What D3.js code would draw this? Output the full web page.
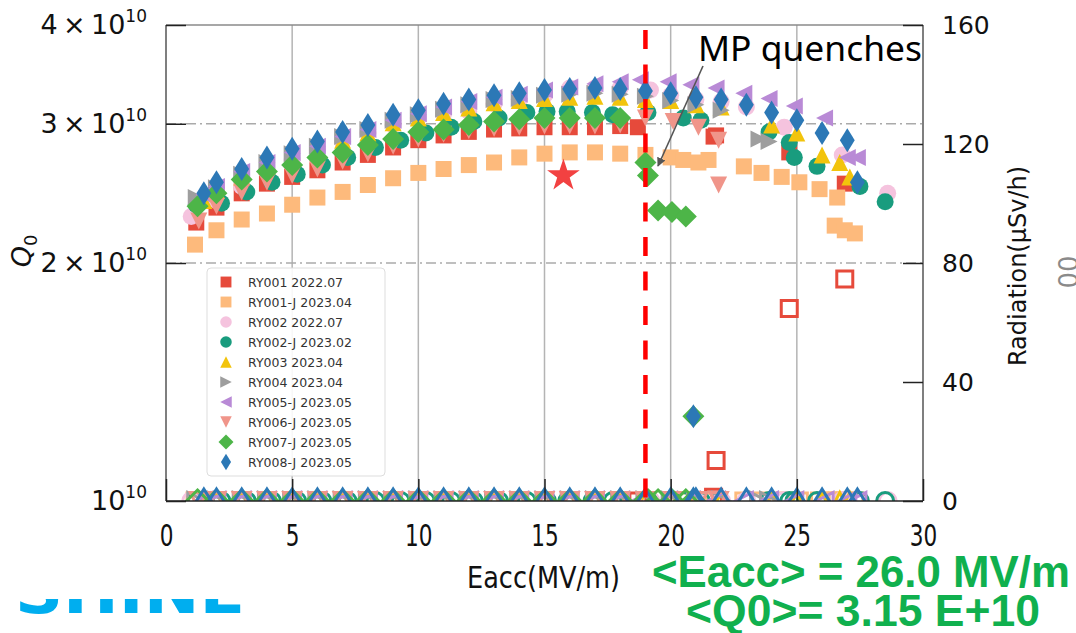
<!DOCTYPE html>
<html>
<head>
<meta charset="utf-8">
<script src="https://cdn.jsdelivr.net/npm/d3@7"></script>
<style>
  body { margin: 0; background: #fff; }
  svg { display: block; font-family: "DejaVu Sans", sans-serif; }
</style>
</head>
<body>
<script>
// Q0 in units of 1e10, Eacc in MV/m, radiation in uSv/h

var ry001_eacc = [1.2, 2, 3, 4, 5, 6, 7, 8, 9, 10, 11, 12, 13, 14, 15, 16, 17, 18, 18.7, 21.8, 21.7, 24.7, 26.9];
var ry001_q0   = [2.25, 2.35, 2.45, 2.52, 2.57, 2.62, 2.68, 2.74, 2.80, 2.86, 2.90, 2.93, 2.95, 2.96, 2.97, 2.97, 2.97, 2.98, 2.97, 2.90, 2.89, 2.76, 2.52];
var ry001_rad  = [0, 0, 0, 0, 0, 0, 0, 0, 0, 0, 0, 0, 0, 0, 0, 0, 0, 0, 0, 13.6, 1.3, 64.7, 74.6];

var ry001j_eacc = [1.15, 2, 3, 4, 5, 6, 7, 8, 9, 10, 11, 12, 13, 14, 15, 16, 17, 18, 19, 20, 20.5, 21.1, 21.5, 22.9, 23.6, 24.4, 25.1, 25.9, 26.6, 26.5, 26.9, 27.3];
var ry001j_q0   = [2.11, 2.20, 2.27, 2.31, 2.37, 2.42, 2.46, 2.51, 2.56, 2.60, 2.63, 2.66, 2.68, 2.72, 2.75, 2.76, 2.76, 2.75, 2.74, 2.72, 2.70, 2.68, 2.70, 2.65, 2.60, 2.57, 2.53, 2.48, 2.42, 2.23, 2.20, 2.18];
var ry001j_rad  = [0, 0, 0, 0, 0, 0, 0, 0, 0, 0, 0, 0, 0, 0, 0, 0, 0, 0, 0, 0, 0, 0, 0, 0, 0, 0, 0, 0, 0, 0, 0, 0];

var ry002_eacc = [1.0, 2, 3, 4, 5, 6, 7, 8, 9, 10, 11, 12, 13, 14, 15, 16, 17, 18, 19.2, 20, 21, 22, 23, 24.5, 26.8, 28.6];
var ry002_q0   = [2.29, 2.40, 2.50, 2.61, 2.70, 2.78, 2.85, 2.92, 2.99, 3.05, 3.09, 3.11, 3.18, 3.22, 3.26, 3.33, 3.33, 3.33, 3.31, 3.26, 3.22, 3.20, 3.15, 2.97, 2.74, 2.45];
var ry002_rad  = [0, 0, 0, 0, 0, 0, 0, 0, 0, 0, 0, 0, 0, 0, 0, 0, 0, 0, 0, 0, 0, 0, 0, 0, 0, 0];

var ry002j_eacc = [1.2, 2.2, 3.2, 4.2, 5.2, 6.2, 7.2, 8.3, 9.3, 10.3, 11.3, 12.2, 13.2, 14.3, 15.1, 15.9, 16.9, 17.7, 19.1, 20.5, 21.2, 23.9, 24.7, 24.9, 25.8, 27.5, 28.5];
var ry002j_q0   = [2.37, 2.38, 2.46, 2.53, 2.59, 2.66, 2.72, 2.80, 2.86, 2.92, 2.97, 3.02, 3.05, 3.10, 3.11, 3.11, 3.10, 3.08, 3.10, 3.05, 3.03, 2.93, 2.84, 2.72, 2.65, 2.50, 2.39];
var ry002j_rad  = [0, 0, 0, 0, 0, 0, 0, 0, 0, 0, 0, 0, 0, 0, 0, 0, 0, 0, 0, 0, 0, 0, 0, 0, 0, 0, 0];

var ry003_eacc = [1.5, 2, 3, 4, 5, 6, 7, 8, 9, 10, 11, 12, 13, 14, 15, 16, 17, 18, 19, 20, 21, 22, 24, 25, 26, 26.7, 27.1];
var ry003_q0   = [2.40, 2.47, 2.57, 2.65, 2.72, 2.79, 2.86, 2.92, 3.01, 3.05, 3.10, 3.14, 3.19, 3.21, 3.23, 3.24, 3.25, 3.24, 3.22, 3.21, 3.17, 3.15, 2.99, 2.92, 2.74, 2.68, 2.57];
var ry003_rad  = [0, 0, 0, 0, 0, 0, 0, 0, 0, 0, 0, 0, 0, 0, 0, 0, 0, 0, 0, 0, 0, 0, 0, 0, 0, 0, 0];

var ry004_eacc = [1.2, 2, 3, 4, 5, 6, 7, 8, 9, 10, 11, 12, 13, 14, 15, 16, 17, 18, 19, 20, 21, 22, 23.5, 23.9];
var ry004_q0   = [2.42, 2.49, 2.59, 2.68, 2.75, 2.81, 2.89, 2.95, 3.03, 3.08, 3.13, 3.17, 3.22, 3.23, 3.26, 3.27, 3.28, 3.27, 3.25, 3.21, 3.17, 3.12, 2.87, 2.85];
var ry004_rad  = [0, 0, 0, 0, 0, 0, 0, 0, 0, 0, 0, 0, 0, 0, 0, 0, 0, 0, 0, 0, 0, 0, 0, 0];

var ry005j_eacc = [1.5, 2, 3, 4, 5, 6, 7, 8, 9, 10, 11, 12, 13, 14, 15, 16, 17, 18, 18.8, 19.9, 20.8, 21.8, 22.9, 23.9, 24.9, 26.1, 27.0, 27.4];
var ry005j_q0   = [2.44, 2.50, 2.61, 2.68, 2.76, 2.81, 2.89, 2.95, 3.03, 3.09, 3.15, 3.20, 3.24, 3.27, 3.31, 3.34, 3.37, 3.39, 3.41, 3.39, 3.36, 3.33, 3.28, 3.23, 3.16, 3.05, 2.72, 2.72];
var ry005j_rad  = [0, 0, 0, 0, 0, 0, 0, 0, 0, 0, 0, 0, 0, 0, 0, 0, 0, 0, 0, 0, 0, 0, 0, 0, 0, 0, 0, 0];

var ry006j_eacc = [1.3, 2, 3, 4, 5, 6, 7, 8, 9, 10, 11, 12, 13, 14, 15, 16, 17, 18, 19, 20.1, 21.1, 21.9, 21.9];
var ry006j_q0   = [2.26, 2.36, 2.46, 2.53, 2.58, 2.63, 2.69, 2.75, 2.81, 2.87, 2.91, 2.94, 2.96, 2.97, 2.98, 2.98, 2.98, 2.99, 3.05, 3.02, 2.97, 2.86, 2.51];
var ry006j_rad  = [0, 0, 0, 0, 0, 0, 0, 0, 0, 0, 0, 0, 0, 0, 0, 0, 0, 0, 0, 0, 0, 0, 0];

var ry007j_eacc = [1.25, 2, 3, 4, 5, 6, 7, 8, 9, 10, 11, 12, 13, 14, 15, 16, 17, 18, 19.0, 19.1, 19.5, 20.05, 20.6, 20.9];
var ry007j_q0   = [2.36, 2.45, 2.55, 2.61, 2.66, 2.72, 2.76, 2.82, 2.87, 2.93, 2.95, 2.99, 3.02, 3.04, 3.05, 3.05, 3.05, 3.05, 2.68, 2.58, 2.33, 2.32, 2.29, 1.28];
var ry007j_rad  = [0, 0, 0, 0, 0, 0, 0, 0, 0, 0, 0, 0, 0, 0, 0, 0, 0, 0, 0, 0, 0, 0, 0, 0];

var ry008j_eacc = [1.5, 2, 3, 4, 5, 6, 7, 8, 9, 10, 11, 12, 13, 14, 15, 16, 17, 18, 19, 20, 21, 22, 23, 24, 25, 26, 27, 27.4, 20.9];
var ry008j_q0   = [2.45, 2.53, 2.63, 2.72, 2.79, 2.85, 2.93, 2.99, 3.08, 3.12, 3.18, 3.22, 3.26, 3.28, 3.31, 3.32, 3.33, 3.32, 3.30, 3.28, 3.24, 3.22, 3.17, 3.10, 3.03, 2.92, 2.86, 2.53, 1.28];
var ry008j_rad  = [0, 0, 0, 0, 0, 0, 0, 0, 0, 0, 0, 0, 0, 0, 0, 0, 0, 0, 0, 0, 0, 0, 0, 0, 0, 0, 0, 0, 0];

var star_eacc = [15.75];
var star_q0 = [2.58];

var quenchEacc = 19;

var xTicks = [0, 5, 10, 15, 20, 25, 30];
var yTicks = [1, 2, 3, 4];
var y2Ticks = [0, 40, 80, 120, 160];

var legendNames = ["RY001 2022.07", "RY001-J 2023.04", "RY002 2022.07", "RY002-J 2023.02", "RY003 2023.04",
                   "RY004 2023.04", "RY005-J 2023.05", "RY006-J 2023.05", "RY007-J 2023.05", "RY008-J 2023.05"];

// table built from the arrays above
var series = [
  { eacc: ry001_eacc,  q0: ry001_q0,  rad: ry001_rad,  shape: "square", color: "#e64a3b" },
  { eacc: ry001j_eacc, q0: ry001j_q0, rad: ry001j_rad, shape: "square", color: "#fdba7c" },
  { eacc: ry002_eacc,  q0: ry002_q0,  rad: ry002_rad,  shape: "circle", color: "#f5c3de" },
  { eacc: ry002j_eacc, q0: ry002j_q0, rad: ry002j_rad, shape: "circle", color: "#199c7e" },
  { eacc: ry003_eacc,  q0: ry003_q0,  rad: ry003_rad,  shape: "up",     color: "#f2c40c" },
  { eacc: ry004_eacc,  q0: ry004_q0,  rad: ry004_rad,  shape: "right",  color: "#9e9e9e" },
  { eacc: ry005j_eacc, q0: ry005j_q0, rad: ry005j_rad, shape: "left",   color: "#b98ad6" },
  { eacc: ry006j_eacc, q0: ry006j_q0, rad: ry006j_rad, shape: "down",   color: "#f0958a" },
  { eacc: ry007j_eacc, q0: ry007j_q0, rad: ry007j_rad, shape: "D",      color: "#4db548" },
  { eacc: ry008j_eacc, q0: ry008j_q0, rad: ry008j_rad, shape: "d",      color: "#2c78b6" }
];
series.forEach(function (s, i) { s.name = legendNames[i]; });

var markerSize = { square: 8, circle: 8.5, up: 8.5, down: 8.5, left: 8.5, right: 8.5, D: 11, d: 12 };

function markerPath(shape, s) {
  switch (shape) {
    case "square": return "M" + (-s) + "," + (-s) + "H" + s + "V" + s + "H" + (-s) + "Z";
    case "circle": return d3.symbol(d3.symbolCircle, Math.PI * s * s)();
    case "up":     return "M0," + (-s) + "L" + s + "," + s + "L" + (-s) + "," + s + "Z";
    case "down":   return "M0," + s + "L" + s + "," + (-s) + "L" + (-s) + "," + (-s) + "Z";
    case "right":  return "M" + s + ",0L" + (-s) + "," + (-s) + "L" + (-s) + "," + s + "Z";
    case "left":   return "M" + (-s) + ",0L" + s + "," + (-s) + "L" + s + "," + s + "Z";
    case "D":      return "M0," + (-s) + "L" + s + ",0L0," + s + "L" + (-s) + ",0Z";
    case "d":      return "M0," + (-s) + "L" + (s * 0.62) + ",0L0," + s + "L" + (-s * 0.62) + ",0Z";
  }
}

//Define Margins and svg here:
var margin = { top: 25, right: 153, bottom: 132, left: 166 };
var W = 1076, H = 633;
var width = W - margin.left - margin.right,
    height = H - margin.top - margin.bottom;

var svg = d3.select("body").append("svg")
    .attr("width", W)
    .attr("height", H);

var g = svg.append("g")
    .attr("transform", "translate(" + margin.left + "," + margin.top + ")");

var xScale = d3.scaleLinear().domain([0, 30]).range([0, width]);
var yScale = d3.scaleLog().domain([1, 4]).range([height, 0]);
var y2Scale = d3.scaleLinear().domain([0, 160]).range([height, 0]);

g.append("clipPath").attr("id", "plotClip")
  .append("rect").attr("width", width).attr("height", height);

// grid
g.selectAll(".vgrid").data([5, 10, 15, 20, 25]).enter().append("line")
  .attr("x1", function (d) { return xScale(d); }).attr("x2", function (d) { return xScale(d); })
  .attr("y1", 0).attr("y2", height)
  .attr("stroke", "#b4b4b4").attr("stroke-width", 1.5);

g.selectAll(".hgrid").data([2, 3]).enter().append("line")
  .attr("x1", 0).attr("x2", width)
  .attr("y1", function (d) { return yScale(d); }).attr("y2", function (d) { return yScale(d); })
  .attr("stroke", "#aaaaaa").attr("stroke-width", 1.5)
  .attr("stroke-dasharray", "10,4,2,4");

// Q0 markers
var plot = g.append("g").attr("clip-path", "url(#plotClip)");

series.forEach(function (s) {
  var pts = s.eacc.map(function (e, i) { return { x: e, q: s.q0[i] }; });
  plot.append("g").selectAll("path").data(pts).enter().append("path")
    .attr("d", markerPath(s.shape, markerSize[s.shape]))
    .attr("transform", function (d) { return "translate(" + xScale(d.x) + "," + yScale(d.q) + ")"; })
    .attr("fill", s.color);
});

// the star
plot.selectAll(".star").data(star_eacc).enter().append("path")
  .attr("d", d3.symbol(d3.symbolStar, 330)())
  .attr("transform", function (d, i) { return "translate(" + xScale(d) + "," + yScale(star_q0[i]) + ")"; })
  .attr("fill", "#f24141");

// radiation markers (right axis), open
series.forEach(function (s) {
  var pts = s.eacc.map(function (e, i) { return { x: e, r: s.rad[i] }; });
  plot.append("g").selectAll("path").data(pts).enter().append("path")
    .attr("d", markerPath(s.shape, markerSize[s.shape]))
    .attr("transform", function (d) { return "translate(" + xScale(d.x) + "," + y2Scale(d.r) + ")"; })
    .attr("fill", "none")
    .attr("stroke", s.color)
    .attr("stroke-width", 3);
});

// quench line
g.append("line")
  .attr("x1", xScale(quenchEacc)).attr("x2", xScale(quenchEacc))
  .attr("y1", 5).attr("y2", height)
  .attr("stroke", "#ff0000").attr("stroke-width", 4.5)
  .attr("stroke-dasharray", "19,15.5");

// spines
g.append("line").attr("x1", 0).attr("x2", width).attr("y1", 0).attr("y2", 0).attr("stroke", "#8a8a8a").attr("stroke-width", 1.5);
g.append("line").attr("x1", 0).attr("x2", 0).attr("y1", 0).attr("y2", height).attr("stroke", "#555").attr("stroke-width", 1.5);
g.append("line").attr("x1", width).attr("x2", width).attr("y1", 0).attr("y2", height).attr("stroke", "#555").attr("stroke-width", 1.5);
g.append("line").attr("x1", 0).attr("x2", width).attr("y1", height).attr("y2", height).attr("stroke", "#222").attr("stroke-width", 1.5);

// Append axes here:
var xAxis = d3.axisBottom(xScale).tickValues(xTicks).tickSizeInner(-22).tickSizeOuter(0).tickPadding(0);
var xAxisGroup = g.append("g").attr("transform", "translate(0," + height + ")").call(xAxis);
xAxisGroup.select(".domain").remove();
xAxisGroup.selectAll(".tick line").attr("stroke", "#222").attr("stroke-width", 1.5);
xAxisGroup.selectAll(".tick text")
  .attr("y", null).attr("dy", null)
  .attr("transform", "translate(0,45) scale(0.72,1)")
  .attr("font-size", 30)
  .attr("font-family", "DejaVu Sans")
  .attr("fill", "#111");

var yAxis = d3.axisLeft(yScale).tickValues(yTicks).tickSizeInner(-20).tickSizeOuter(0).tickFormat("");
var yAxisGroup = g.append("g").call(yAxis);
yAxisGroup.select(".domain").remove();
yAxisGroup.selectAll(".tick line").attr("stroke", "#222").attr("stroke-width", 1.5);

yTicks.forEach(function (v) {
  var t = g.append("text")
    .attr("x", -19).attr("y", yScale(v) + 9)
    .attr("text-anchor", "end")
    .attr("font-size", 27)
    .attr("fill", "#111");
  t.append("tspan").text(v === 1 ? "10" : v + "\u2009\u00d7\u200910");
  t.append("tspan").attr("dy", -12).attr("font-size", 17).text("10");
});

var y2Axis = d3.axisRight(y2Scale).tickValues(y2Ticks).tickSizeInner(-20).tickSizeOuter(0).tickPadding(19);
var y2AxisGroup = g.append("g").attr("transform", "translate(" + width + ",0)").call(y2Axis);
y2AxisGroup.select(".domain").remove();
y2AxisGroup.selectAll(".tick line").attr("stroke", "#222").attr("stroke-width", 1.5);
y2AxisGroup.selectAll(".tick text")
  .attr("font-size", 25)
  .attr("font-family", "DejaVu Sans")
  .attr("fill", "#111");

// axis titles
var qLabel = svg.append("text")
  .attr("transform", "translate(31,251) rotate(-90)")
  .attr("text-anchor", "middle")
  .attr("font-size", 27)
  .attr("fill", "#111");
qLabel.append("tspan").attr("font-style", "italic").text("Q");
qLabel.append("tspan").attr("font-size", 18).attr("dy", 6).text("0");

svg.append("text")
  .attr("transform", "translate(1026,266) rotate(-90)")
  .attr("text-anchor", "middle")
  .attr("font-size", 24)
  .attr("fill", "#111")
  .text("Radiation(\u03bcSv/h)");

svg.append("text")
  .attr("x", 467).attr("y", 588)
  .attr("font-size", 30)
  .attr("textLength", 153).attr("lengthAdjust", "spacingAndGlyphs")
  .attr("fill", "#111")
  .text("Eacc(MV/m)");

// legend
var legend = svg.append("g").attr("transform", "translate(207,268)");
legend.append("rect")
  .attr("width", 178).attr("height", 208).attr("rx", 4)
  .attr("fill", "#fff").attr("fill-opacity", 0.9)
  .attr("stroke", "#dddddd").attr("stroke-width", 1);

var rows = legend.selectAll(".row").data(series).enter().append("g")
  .attr("transform", function (d, i) { return "translate(0," + (14 + i * 20) + ")"; });
rows.append("path")
  .attr("d", function (d) { return markerPath(d.shape, markerSize[d.shape] * 0.68); })
  .attr("transform", "translate(19,0)")
  .attr("fill", function (d) { return d.color; });
rows.append("text")
  .attr("x", 41).attr("y", 4.5)
  .attr("font-size", 12.5)
  .attr("fill", "#333")
  .text(function (d) { return d.name; });

// annotation
var defs = svg.append("defs");
defs.append("marker").attr("id", "arrowHead")
  .attr("viewBox", "0 0 10 10").attr("refX", 9).attr("refY", 5)
  .attr("markerWidth", 9).attr("markerHeight", 9).attr("markerUnits", "userSpaceOnUse")
  .attr("orient", "auto")
  .append("path").attr("d", "M0,0L10,5L0,10Z").attr("fill", "#555");

svg.append("line")
  .attr("x1", 703).attr("y1", 66).attr("x2", 658).attr("y2", 166)
  .attr("stroke", "#555").attr("stroke-width", 1.6)
  .attr("marker-end", "url(#arrowHead)");

svg.append("text")
  .attr("x", 698).attr("y", 61)
  .attr("font-family", "Noto Sans, sans-serif")
  .attr("font-size", 34)
  .attr("textLength", 224).attr("lengthAdjust", "spacingAndGlyphs")
  .attr("fill", "#000")
  .text("MP quenches");

// slide text around the chart
svg.append("text")
  .attr("x", 652).attr("y", 587)
  .attr("font-family", "Liberation Sans Narrow, Liberation Sans, sans-serif")
  .attr("font-weight", "bold")
  .attr("font-size", 44)
  .attr("textLength", 418).attr("lengthAdjust", "spacingAndGlyphs")
  .attr("fill", "#10b04e")
  .text("<Eacc> = 26.0 MV/m");

svg.append("text")
  .attr("x", 686).attr("y", 626)
  .attr("font-family", "Liberation Sans Narrow, Liberation Sans, sans-serif")
  .attr("font-weight", "bold")
  .attr("font-size", 44)
  .attr("textLength", 354).attr("lengthAdjust", "spacingAndGlyphs")
  .attr("fill", "#10b04e")
  .text("<Q0>= 3.15 E+10");

svg.append("clipPath").attr("id", "logoClip")
  .append("rect").attr("x", 0).attr("y", 599).attr("width", 300).attr("height", 16);
svg.append("text")
  .attr("clip-path", "url(#logoClip)")
  .attr("x", 15).attr("y", 613)
  .attr("font-weight", "bold")
  .attr("font-size", 60)
  .attr("textLength", 230).attr("lengthAdjust", "spacingAndGlyphs")
  .attr("fill", "#00aeef")
  .text("SHINE");

svg.append("text")
  .attr("transform", "translate(1078,272) rotate(-90)")
  .attr("text-anchor", "middle")
  .attr("font-size", 26)
  .attr("fill", "#8a8a8a")
  .text("00");
</script>
</body>
</html>
